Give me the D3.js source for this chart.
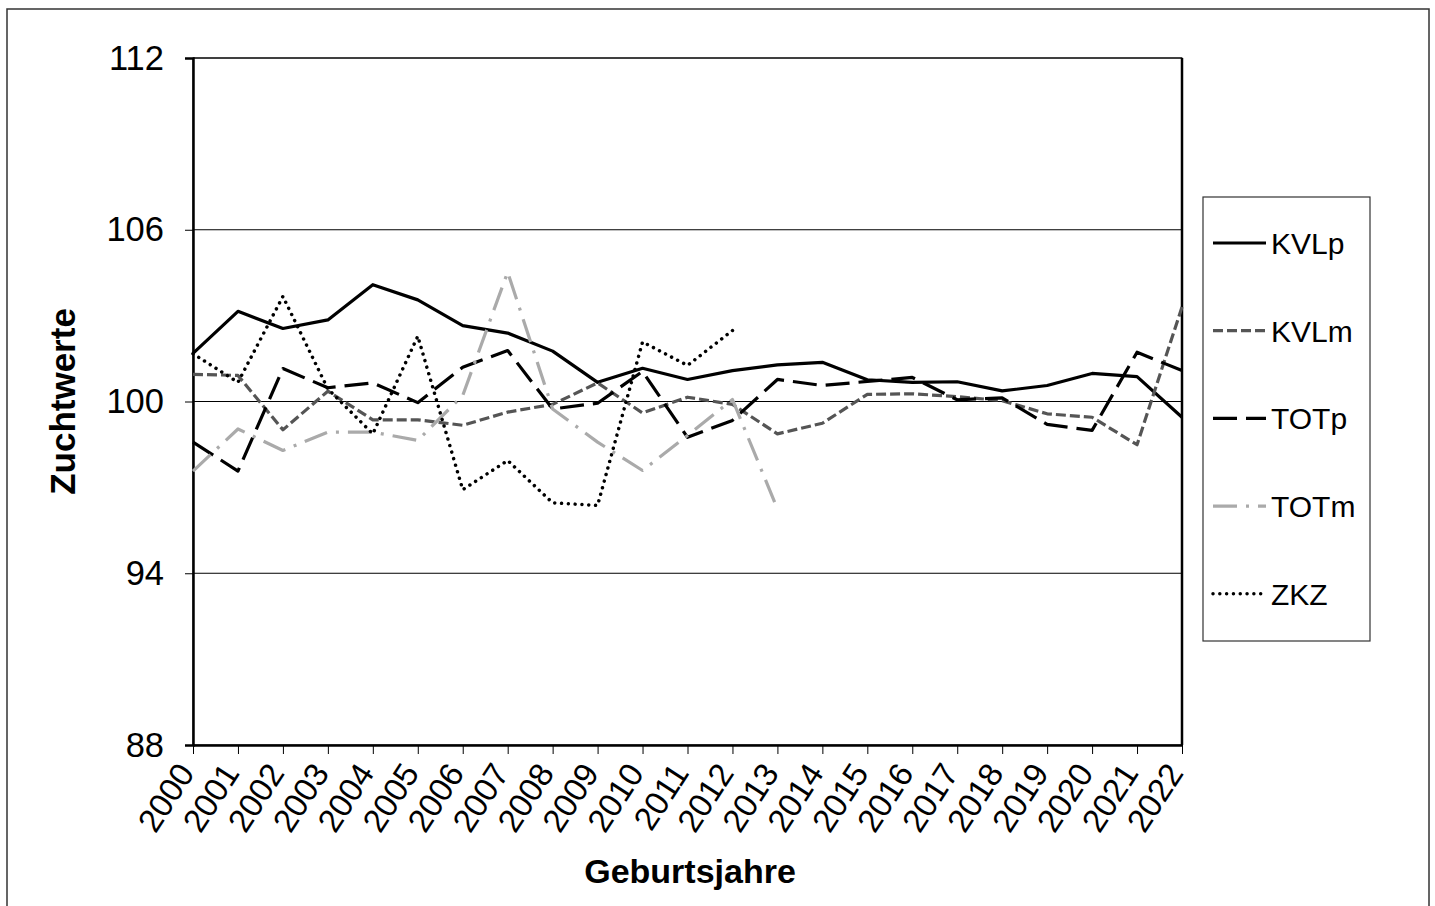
<!DOCTYPE html>
<html>
<head>
<meta charset="utf-8">
<script src="https://cdn.jsdelivr.net/npm/d3@7/dist/d3.min.js"></script>
<style>
  html, body { margin: 0; padding: 0; background: #fff; }
  svg { display: block; font-family: "Liberation Sans", Arial, sans-serif; }
</style>
</head>
<body>
<svg id="chart" width="1435" height="906"></svg>
<script>
const years = ["2000","2001","2002","2003","2004","2005","2006","2007","2008","2009","2010","2011","2012","2013","2014","2015","2016","2017","2018","2019","2020","2021","2022"];
const yTicks = [88, 94, 100, 106, 112];

const KVLp = [101.68, 103.15, 102.55, 102.85, 104.08, 103.55, 102.65, 102.39, 101.76, 100.67, 101.16, 100.77, 101.08, 101.28, 101.37, 100.76, 100.67, 100.69, 100.37, 100.56, 100.98, 100.87, 99.45];
const KVLm = [100.95, 100.91, 99.01, 100.36, 99.36, 99.36, 99.17, 99.63, 99.9, 100.65, 99.6, 100.15, 99.9, 98.87, 99.24, 100.25, 100.27, 100.17, 100.03, 99.57, 99.45, 98.49, 103.3];
const TOTp = [98.58, 97.57, 101.15, 100.48, 100.65, 99.96, 101.2, 101.78, 99.74, 99.94, 101.05, 98.75, 99.34, 100.77, 100.56, 100.7, 100.84, 100.06, 100.13, 99.2, 98.99, 101.72, 101.08];
const TOTm = [97.57, 99.04, 98.29, 98.93, 98.93, 98.64, 100.21, 104.52, 99.74, 98.58, 97.59, 98.81, 100.07, 96.25];
const ZKZ  = [101.67, 100.67, 103.67, 100.44, 98.87, 102.28, 96.92, 97.94, 96.46, 96.37, 102.08, 101.26, 102.48];

const seriesNames = ["KVLp", "KVLm", "TOTp", "TOTm", "ZKZ"];
const seriesData = [KVLp, KVLm, TOTp, TOTm, ZKZ];
const seriesStyle = [
  { color: "#000000", width: 3.2, dash: null, cap: "butt" },
  { color: "#555555", width: 3.2, dash: "10,4", cap: "butt" },
  { color: "#000000", width: 3.2, dash: "24,9", cap: "butt" },
  { color: "#aaaaaa", width: 3.2, dash: "24,9,3,9", cap: "butt" },
  { color: "#000000", width: 3.5, dash: "0.01,6.8", cap: "round" }
];

const svg = d3.select("#chart");
const FONT = "Liberation Sans, Arial, sans-serif";

// outer chart border
svg.append("rect").attr("x", 7).attr("y", 9).attr("width", 1422).attr("height", 910)
  .attr("fill", "none").attr("stroke", "#333").attr("stroke-width", 1.5);

const pLeft = 193, pRight = 1182, pTop = 58, pBottom = 745;
const x = d3.scalePoint().domain(years).range([pLeft, pRight]);
const y = d3.scaleLinear().domain([88, 112]).range([pBottom, pTop]);

// gridlines
svg.append("g").selectAll("line").data(yTicks.filter(t => t !== 88)).join("line")
  .attr("x1", pLeft).attr("x2", pRight)
  .attr("y1", d => y(d)).attr("y2", d => y(d))
  .attr("stroke", "#000").attr("stroke-width", 1);

// plot area frame
svg.append("rect").attr("x", pLeft).attr("y", pTop).attr("width", pRight - pLeft).attr("height", pBottom - pTop)
  .attr("fill", "none").attr("stroke", "#000").attr("stroke-width", 1);
svg.append("line").attr("x1", pRight).attr("x2", pRight).attr("y1", pTop).attr("y2", pBottom)
  .attr("stroke", "#000").attr("stroke-width", 2.5);

// y axis
const yAxis = svg.append("g").attr("transform", `translate(${pLeft},0)`)
  .call(d3.axisLeft(y).tickValues(yTicks).tickSize(8).tickPadding(21).tickFormat(d3.format("d")));
yAxis.select(".domain").attr("stroke", "#000").attr("stroke-width", 2.5);
yAxis.selectAll(".tick line").attr("stroke", "#000").attr("stroke-width", 1);
yAxis.selectAll("text").attr("font-size", 34.5).attr("fill", "#000").attr("font-family", FONT);

// x axis
const xAxis = svg.append("g").attr("transform", `translate(0,${pBottom})`)
  .call(d3.axisBottom(x).tickSize(9).tickSizeOuter(0).tickPadding(6));
xAxis.select(".domain").attr("stroke", "#000").attr("stroke-width", 2.5);
xAxis.selectAll(".tick line").attr("stroke", "#000").attr("stroke-width", 1);
xAxis.selectAll("text")
  .attr("font-size", 33).attr("fill", "#000")
  .attr("font-family", FONT)
  .attr("text-anchor", "end")
  .attr("dy", null)
  .attr("y", 0)
  .attr("transform", "translate(2,28) rotate(-57)");

// axis titles
svg.append("text").attr("transform", `translate(75,${(pTop + pBottom) / 2}) rotate(-90)`)
  .attr("text-anchor", "middle").attr("font-size", 35).attr("font-weight", "bold")
  .attr("font-family", FONT).text("Zuchtwerte");
svg.append("text").attr("x", 690).attr("y", 883)
  .attr("text-anchor", "middle").attr("font-size", 34).attr("font-weight", "bold")
  .attr("font-family", FONT).text("Geburtsjahre");

// lines
const line = d3.line().x((d, i) => x(years[i])).y(d => y(d));
seriesData.forEach((data, k) => {
  const s = seriesStyle[k];
  svg.append("path").datum(data)
    .attr("d", line)
    .attr("fill", "none")
    .attr("stroke", s.color)
    .attr("stroke-width", s.width)
    .attr("stroke-linecap", s.cap)
    .attr("stroke-linejoin", "round")
    .attr("stroke-dasharray", s.dash);
});

// legend
const lg = svg.append("g");
lg.append("rect").attr("x", 1203).attr("y", 197).attr("width", 167).attr("height", 444)
  .attr("fill", "#fff").attr("stroke", "#333").attr("stroke-width", 1.2);
seriesNames.forEach((name, k) => {
  const s = seriesStyle[k];
  const ly = 243 + k * 87.7;
  lg.append("line").attr("x1", 1213).attr("x2", 1266).attr("y1", ly).attr("y2", ly)
    .attr("stroke", s.color).attr("stroke-width", s.width)
    .attr("stroke-linecap", s.cap).attr("stroke-dasharray", s.dash);
  lg.append("text").attr("x", 1271).attr("y", ly + 11).attr("font-size", 30)
    .attr("font-family", FONT).attr("fill", "#000").text(name);
});
</script>
</body>
</html>
